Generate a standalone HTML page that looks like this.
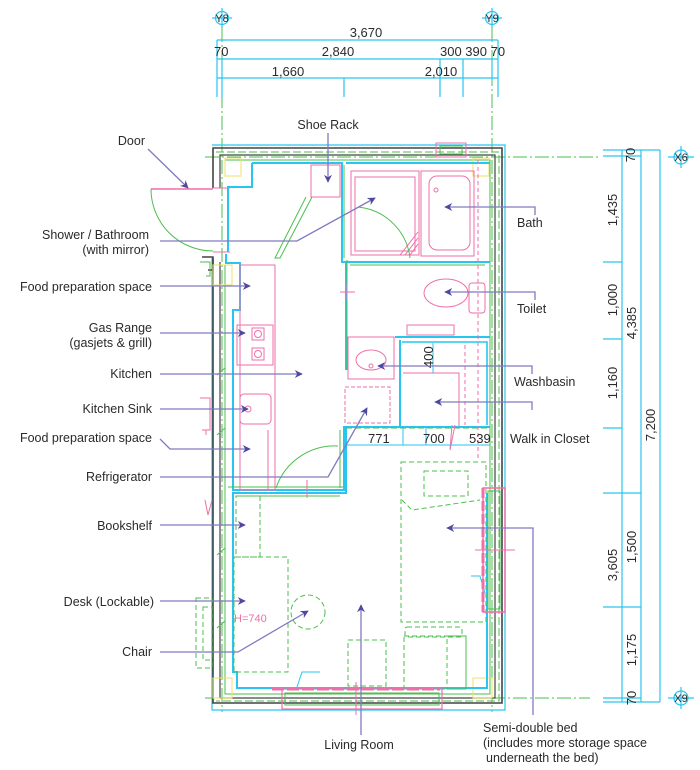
<!DOCTYPE html>
<html><head><meta charset="utf-8">
<style>
html,body{margin:0;padding:0;background:#fff;}
svg{display:block;}
text{font-family:"Liberation Sans",sans-serif;fill:#2a2a2a;}
</style></head>
<body>
<svg width="700" height="770" viewBox="0 0 700 770" xmlns="http://www.w3.org/2000/svg">
<defs>
<marker id="ar" viewBox="0 0 10 10" refX="9" refY="5" markerWidth="8" markerHeight="8" orient="auto-start-reverse" markerUnits="userSpaceOnUse">
<path d="M0,0 L10,5 L0,10 L3,5 z" fill="#4e48a0"/>
</marker>
</defs>

<!-- grid dash-dot lines -->
<g stroke="#4cbf4c" stroke-width="1" fill="none" stroke-dasharray="14,3,2,3">
<line x1="222" y1="28" x2="222" y2="712"/>
<line x1="492" y1="28" x2="492" y2="712"/>
<line x1="205" y1="157" x2="600" y2="157"/>
<line x1="205" y1="698" x2="590" y2="698"/>
</g>

<!-- top dims -->
<g stroke="#29c5f0" stroke-width="1.2" fill="none">
<circle cx="222" cy="18" r="6.5"/><line x1="212" y1="18" x2="232" y2="18"/><line x1="222" y1="8" x2="222" y2="28"/>
<circle cx="492" cy="18" r="6.5"/><line x1="482" y1="18" x2="502" y2="18"/><line x1="492" y1="8" x2="492" y2="28"/>
<line x1="217" y1="40" x2="498" y2="40"/>
<line x1="217" y1="59" x2="498" y2="59"/>
<line x1="217" y1="78" x2="498" y2="78"/>
<line x1="217" y1="40" x2="217" y2="97"/>
<line x1="498" y1="40" x2="498" y2="97"/>
<line x1="222" y1="59" x2="222" y2="97"/>
<line x1="440" y1="59" x2="440" y2="97"/>
<line x1="463" y1="59" x2="463" y2="97"/>
<line x1="344" y1="78" x2="344" y2="97"/>
<line x1="492" y1="59" x2="492" y2="80"/>
</g>
<g font-size="13">
<text x="366" y="37" text-anchor="middle">3,670</text>
<text x="214" y="56">70</text>
<text x="338" y="56" text-anchor="middle">2,840</text>
<text x="440" y="56">300 390 70</text>
<text x="288" y="76" text-anchor="middle">1,660</text>
<text x="441" y="76" text-anchor="middle">2,010</text>
</g>

<!-- right dims -->
<g stroke="#29c5f0" stroke-width="1.2" fill="none">
<line x1="622" y1="150" x2="622" y2="702"/>
<line x1="641" y1="150" x2="641" y2="702"/>
<line x1="660" y1="150" x2="660" y2="702"/>
<line x1="603" y1="150" x2="660" y2="150"/>
<line x1="603" y1="156" x2="641" y2="156"/>
<line x1="603" y1="262" x2="622" y2="262"/>
<line x1="603" y1="339" x2="622" y2="339"/>
<line x1="603" y1="428" x2="622" y2="428"/>
<line x1="603" y1="493" x2="641" y2="493"/>
<line x1="603" y1="607" x2="641" y2="607"/>
<line x1="603" y1="698" x2="641" y2="698"/>
<line x1="603" y1="702" x2="660" y2="702"/>
<circle cx="681" cy="157" r="7"/><line x1="668" y1="157" x2="694" y2="157"/><line x1="681" y1="146" x2="681" y2="168"/>
<circle cx="681" cy="698" r="7"/><line x1="668" y1="698" x2="694" y2="698"/><line x1="681" y1="687" x2="681" y2="709"/>
</g>
<g font-size="13">
<text transform="translate(635,155) rotate(-90)" text-anchor="middle">70</text>
<text transform="translate(617,210) rotate(-90)" text-anchor="middle">1,435</text>
<text transform="translate(617,300) rotate(-90)" text-anchor="middle">1,000</text>
<text transform="translate(636,323) rotate(-90)" text-anchor="middle">4,385</text>
<text transform="translate(617,383) rotate(-90)" text-anchor="middle">1,160</text>
<text transform="translate(655,425) rotate(-90)" text-anchor="middle">7,200</text>
<text transform="translate(617,565) rotate(-90)" text-anchor="middle">3,605</text>
<text transform="translate(636,547) rotate(-90)" text-anchor="middle">1,500</text>
<text transform="translate(636,650) rotate(-90)" text-anchor="middle">1,175</text>
<text transform="translate(636,698) rotate(-90)" text-anchor="middle">70</text>
</g>
<g font-size="11" text-anchor="middle"><text x="222" y="22">Y8</text><text x="492" y="22">Y9</text><text x="681" y="161">X6</text><text x="681" y="702">X9</text></g>

<!-- outer walls -->
<g fill="none">
<path d="M212,145 H505 V710 H212 V258" stroke="#29c5f0" stroke-width="1.2"/>
<path d="M213,188 V148 H502 V703 H213 V258" stroke="#444" stroke-width="1.6"/>
<path d="M220,188 V155 H495 V698 H220 V262" stroke="#444" stroke-width="1.2"/>
<path d="M216,152 H499 V701 H216" stroke="#4cbf4c" stroke-width="1" stroke-dasharray="8,3"/>
<path d="M225,160 H490 V694 H225 V265" stroke="#4cbf4c" stroke-width="1"/>
<path d="M202,257 H213 V270 H208" stroke="#444" stroke-width="1.4"/>
<path d="M200,262 H210 V276 H206" stroke="#4cbf4c" stroke-width="1"/>
<rect x="213" y="265" width="19" height="20" stroke="#f0e060" stroke-width="1"/>
<rect x="225" y="158" width="16" height="18" stroke="#f0e060" stroke-width="1"/>
<rect x="473" y="158" width="16" height="18" stroke="#f0e060" stroke-width="1"/>
<rect x="213" y="678" width="19" height="20" stroke="#f0e060" stroke-width="1"/>
<rect x="473" y="678" width="19" height="20" stroke="#f0e060" stroke-width="1"/>
</g>

<!-- entrance door -->
<g fill="none">
<line x1="151" y1="189" x2="213" y2="189" stroke="#ef6fa8" stroke-width="1.5"/>
<path d="M151,189 A62,62 0 0 0 213,251" stroke="#4cbf4c" stroke-width="1"/>
<line x1="213" y1="188" x2="230" y2="188" stroke="#ef6fa8" stroke-width="1"/>
<line x1="213" y1="252" x2="230" y2="252" stroke="#ef6fa8" stroke-width="1"/>
</g>

<!-- top window -->
<g fill="none" stroke-width="1">
<rect x="436" y="143" width="30" height="14" stroke="#ef6fa8"/>
<rect x="440" y="146" width="22" height="8" stroke="#4cbf4c"/>
</g>

<!-- interior cyan walls -->
<g fill="none" stroke="#29c5f0" stroke-width="2">
<path d="M252,163 H342 V262 H490"/>
<path d="M252,163 V187 H228 V252"/>
<path d="M226,254 V263 H240 V310 H233 V490 H344 V427 H490"/>
<path d="M346,163 H490"/>
<path d="M346,263 V370"/>
<path d="M395,337 H490"/>
<path d="M400,340 V427"/>
<path d="M346,427 V493 H233 V672 H237 V688 H487 V493"/>
</g>
<g fill="none" stroke="#4cbf4c" stroke-width="1">
<path d="M347,260 V370"/>
<path d="M344,165 V258"/>
<path d="M350,265 H485"/>
<path d="M340,430 V488"/>
<path d="M236,496 H340"/>
<path d="M228,487 H343"/>
</g>

<!-- shoe rack -->
<rect x="311" y="165" width="29" height="32" fill="none" stroke="#ef6fa8" stroke-width="1"/>
<path d="M312,197 L280,258 H275 L306,197" fill="none" stroke="#4cbf4c" stroke-width="1"/>

<!-- bathroom -->
<g fill="none" stroke="#ef6fa8" stroke-width="1">
<rect x="351" y="171" width="68" height="84"/>
<rect x="355" y="177" width="60" height="74"/>
<rect x="421" y="171" width="53" height="85"/>
<rect x="429" y="176" width="41" height="74" rx="8"/>
<circle cx="436" cy="190" r="2"/>
<line x1="400" y1="255" x2="418" y2="232"/>
<line x1="405" y1="255" x2="418" y2="238"/>
<line x1="410" y1="255" x2="418" y2="244"/>
</g>
<path d="M358,207 A58,58 0 0 1 410,258" fill="none" stroke="#4cbf4c" stroke-width="1"/>
<line x1="478" y1="160" x2="478" y2="460" stroke="#ef6fa8" stroke-width="1" stroke-dasharray="4,3"/>

<!-- toilet -->
<g fill="none" stroke="#ef6fa8" stroke-width="1">
<ellipse cx="446" cy="293" rx="22" ry="14"/>
<rect x="469" y="283" width="16" height="30" rx="3"/>
<rect x="407" y="325" width="47" height="10"/>
</g>
<path d="M340,292 H355 M347,284 V300" stroke="#ef6fa8" stroke-width="1"/>

<!-- washbasin -->
<g fill="none" stroke="#ef6fa8" stroke-width="1">
<rect x="348" y="337" width="46" height="42"/>
<ellipse cx="371" cy="360" rx="15" ry="10"/>
<circle cx="371" cy="366" r="2"/>
</g>

<!-- walk in closet -->
<g fill="none" stroke-width="1">
<path d="M402,342 H487 V425" stroke="#29c5f0" stroke-width="1.6"/>
<path d="M403,373 H459 V426" stroke="#ef6fa8"/>
<line x1="433" y1="343" x2="433" y2="373" stroke="#29c5f0"/>
<line x1="465" y1="345" x2="465" y2="425" stroke="#ef6fa8" stroke-dasharray="4,3"/>
<line x1="346" y1="428" x2="490" y2="428" stroke="#4cbf4c" stroke-dasharray="6,3"/>
<path d="M452,425 L450,450 L455,425" stroke="#ef6fa8"/>
<line x1="346" y1="445" x2="490" y2="445" stroke="#29c5f0"/>
<line x1="403" y1="428" x2="403" y2="445" stroke="#29c5f0"/>
<line x1="426" y1="428" x2="426" y2="445" stroke="#29c5f0"/>
</g>
<text transform="translate(433,368) rotate(-90)" font-size="13">400</text>
<g font-size="13"><text x="368" y="443">771</text><text x="423" y="443">700</text><text x="469" y="443">539</text></g>

<!-- refrigerator -->
<rect x="345" y="387" width="45" height="36" fill="none" stroke="#ef6fa8" stroke-width="1" stroke-dasharray="4,2"/>

<!-- kitchen -->
<g fill="none" stroke="#ef6fa8" stroke-width="1">
<rect x="240" y="265" width="35" height="225"/>
<rect x="237" y="325" width="36" height="40"/>
<rect x="252" y="328" width="12" height="12"/><circle cx="258" cy="334" r="3.5"/>
<rect x="252" y="348" width="12" height="12"/><circle cx="258" cy="354" r="3.5"/>
<rect x="240" y="394" width="31" height="30" rx="4"/>
<circle cx="248" cy="409" r="3"/>
<line x1="268" y1="430" x2="268" y2="490"/>
<path d="M200,398 H210 V430 H202 M206,430 v5"/>
<path d="M205,500 L208,515 L212,500"/>
</g>
<path d="M276,488 A62,62 0 0 1 338,446" fill="none" stroke="#4cbf4c" stroke-width="1"/>
<line x1="307" y1="480" x2="307" y2="498" stroke="#ef6fa8" stroke-width="1"/>
<g stroke="#4cbf4c" stroke-width="1"><line x1="217" y1="375" x2="225" y2="368"/><line x1="217" y1="435" x2="225" y2="428"/><line x1="217" y1="555" x2="225" y2="548"/><line x1="217" y1="628" x2="225" y2="621"/></g>

<!-- living room furniture -->
<g fill="none" stroke="#4cbf4c" stroke-width="1" stroke-dasharray="5,3">
<rect x="236" y="496" width="24" height="61"/>
<rect x="234" y="557" width="54" height="115"/>
<circle cx="308" cy="612" r="17"/>
<rect x="348" y="640" width="38" height="46"/>
<rect x="401" y="462" width="85" height="160"/>
<rect x="424" y="471" width="44" height="25"/>
<path d="M402,500 L412,510 L480,500"/>
<rect x="405" y="627" width="57" height="10" rx="2"/>
<rect x="404" y="636" width="62" height="53"/>
<rect x="447" y="636" width="19" height="53"/>
<rect x="196" y="598" width="16" height="70"/>
<rect x="203" y="607" width="9" height="53"/>
</g>
<text x="234" y="622" font-size="11" style="fill:#ef6fa8">H=740</text>
<path d="M296,690 L302,672 H320" fill="none" stroke="#29c5f0" stroke-width="1"/>
<path d="M471,576 H480 L485,593" fill="none" stroke="#29c5f0" stroke-width="1"/>

<!-- right window -->
<g fill="none" stroke-width="1">
<rect x="483" y="488" width="22" height="124" stroke="#ef6fa8" stroke-width="1.5"/>
<rect x="488" y="491" width="12" height="118" stroke="#4cbf4c"/>
<line x1="483" y1="488" x2="483" y2="612" stroke="#ef6fa8" stroke-width="3" stroke-dasharray="10,3"/>
<line x1="475" y1="550" x2="515" y2="550" stroke="#ef6fa8"/>
</g>
<!-- bottom window -->
<g fill="none" stroke-width="1">
<rect x="282" y="689" width="160" height="20" stroke="#ef6fa8" stroke-width="1.2"/>
<rect x="285" y="693" width="154" height="12" stroke="#4cbf4c"/>
<line x1="272" y1="689" x2="440" y2="689" stroke="#ef6fa8" stroke-width="3" stroke-dasharray="12,3"/>
<line x1="356" y1="682" x2="356" y2="715" stroke="#ef6fa8"/>
</g>

<!-- leaders -->
<g fill="none" stroke="#7f7bbf" stroke-width="1.3">
<line x1="148" y1="149" x2="188" y2="188" marker-end="url(#ar)"/>
<polyline points="160,241 297,241 375,198" marker-end="url(#ar)"/>
<line x1="160" y1="286" x2="250" y2="286" marker-end="url(#ar)"/>
<line x1="160" y1="333" x2="245" y2="333" marker-end="url(#ar)"/>
<line x1="160" y1="374" x2="302" y2="374" marker-end="url(#ar)"/>
<line x1="160" y1="409" x2="248" y2="409" marker-end="url(#ar)"/>
<polyline points="160,439 170,449 250,449" marker-end="url(#ar)"/>
<polyline points="160,477 328,477 367,408" marker-end="url(#ar)"/>
<line x1="160" y1="525" x2="245" y2="525" marker-end="url(#ar)"/>
<line x1="160" y1="601" x2="245" y2="601" marker-end="url(#ar)"/>
<polyline points="160,652 238,652 308,611" marker-end="url(#ar)"/>
<line x1="328" y1="133" x2="328" y2="182" marker-end="url(#ar)"/>
<polyline points="535,215 535,207 445,207" marker-end="url(#ar)"/>
<polyline points="535,300 535,292 445,292" marker-end="url(#ar)"/>
<polyline points="532,374 532,366 378,366" marker-end="url(#ar)"/>
<polyline points="532,410 532,402 435,402" marker-end="url(#ar)"/>
<polyline points="533,715 533,528 447,528" marker-end="url(#ar)"/>
<line x1="361" y1="735" x2="361" y2="605" marker-end="url(#ar)"/>
</g>

<!-- labels -->
<g font-size="12.5">
<text x="145" y="145" text-anchor="end">Door</text>
<text x="149" y="239" text-anchor="end">Shower / Bathroom</text>
<text x="149" y="254" text-anchor="end">(with mirror)</text>
<text x="152" y="291" text-anchor="end">Food preparation space</text>
<text x="152" y="332" text-anchor="end">Gas Range</text>
<text x="152" y="347" text-anchor="end">(gasjets &amp; grill)</text>
<text x="152" y="378" text-anchor="end">Kitchen</text>
<text x="152" y="413" text-anchor="end">Kitchen Sink</text>
<text x="152" y="442" text-anchor="end">Food preparation space</text>
<text x="152" y="481" text-anchor="end">Refrigerator</text>
<text x="152" y="530" text-anchor="end">Bookshelf</text>
<text x="154" y="606" text-anchor="end">Desk (Lockable)</text>
<text x="152" y="656" text-anchor="end">Chair</text>
<text x="328" y="129" text-anchor="middle">Shoe Rack</text>
<text x="517" y="227">Bath</text>
<text x="517" y="313">Toilet</text>
<text x="514" y="386">Washbasin</text>
<text x="510" y="443">Walk in Closet</text>
<text x="359" y="749" text-anchor="middle">Living Room</text>
<text x="483" y="732">Semi-double bed</text>
<text x="483" y="747">(includes more storage space</text>
<text x="486" y="762">underneath the bed)</text>
</g>
</svg>
</body></html>
